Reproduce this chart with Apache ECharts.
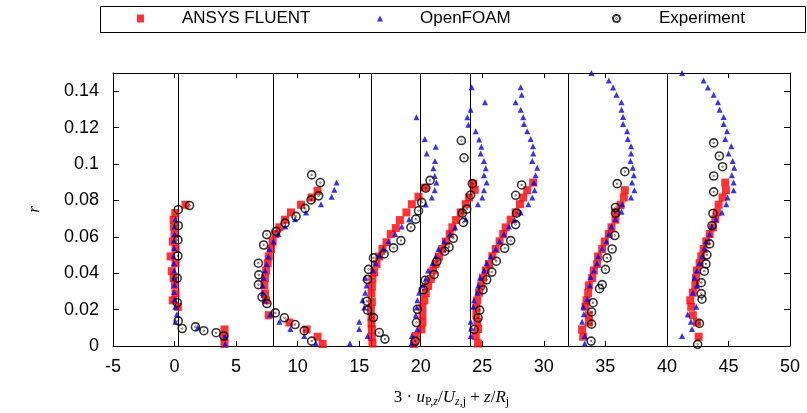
<!DOCTYPE html>
<html>
<head>
<meta charset="utf-8">
<script src="https://cdn.jsdelivr.net/npm/echarts@6/dist/echarts.min.js"></script>
<style>html,body{margin:0;padding:0;background:#fff}#c{width:807px;height:413px}</style>
</head>
<body>
<div id="c"></div>
<script>
// profile baselines (vertical reference lines)
const baselines = [0.3, 8, 16, 20, 24, 32, 40];
const xTicks = { min: -5, max: 50, step: 5 };
const yTicks = { min: 0, max: 0.15, step: 0.02 };

// ANSYS FLUENT [x, r]
const fluent = [
  // profile 1
  [0.89,0.0776],[0.06,0.0730],[-0.08,0.0694],[-0.05,0.0656],[0.0,0.0615],[-0.14,0.0574],[0.08,0.0533],[-0.32,0.0492],[0.08,0.0455],[-0.22,0.0411],[-0.08,0.0373],[0.03,0.0333],[0.08,0.0288],[-0.14,0.0251],[0.27,0.0215],[4.06,0.0091],[4.06,0.0051],[4.06,0.0011],
  // profile 2
  [11.62,0.0852],[11.14,0.0816],[10.27,0.0776],[9.46,0.0734],[8.98,0.0694],[8.52,0.0652],[8.19,0.0615],[7.97,0.0574],[7.84,0.0533],[7.65,0.0492],[7.57,0.0455],[7.44,0.0415],[7.35,0.0373],[7.30,0.0333],[7.35,0.0288],[7.44,0.0251],[7.65,0.0169],[9.33,0.0129],[10.73,0.0091],[11.62,0.0051],[12.03,0.0011],
  // profile 3
  [20.35,0.0870],[19.82,0.0820],[19.28,0.0779],[18.84,0.0734],[18.31,0.0692],[17.98,0.0648],[17.57,0.0615],[17.22,0.0570],[16.89,0.0533],[16.63,0.0492],[16.41,0.0451],[16.22,0.0406],[16.08,0.0369],[16.03,0.0328],[16.0,0.0288],[16.03,0.0242],[15.95,0.0202],[16.0,0.0160],[16.0,0.0124],[16.03,0.0091],[16.03,0.0051],[16.08,0.0014],
  // profile 4
  [24.27,0.0892],[24.39,0.0858],[23.93,0.0816],[23.66,0.0779],[23.25,0.0734],[22.87,0.0692],[22.57,0.0652],[22.36,0.0615],[22.04,0.0574],[21.76,0.0533],[21.49,0.0492],[21.22,0.0451],[21.01,0.0415],[20.82,0.0369],[20.6,0.0330],[20.41,0.0291],[20.3,0.0251],[20.14,0.0211],[20.14,0.0169],[20.14,0.0129],[20.06,0.0091],[19.6,0.0055],[19.47,0.0011],
  // profile 5
  [29.14,0.0898],[28.65,0.0856],[28.33,0.0816],[28.06,0.0779],[27.71,0.0734],[27.31,0.0694],[26.9,0.0652],[26.7,0.0615],[26.41,0.0575],[26.09,0.0533],[25.82,0.0493],[25.55,0.0451],[25.28,0.0415],[25.06,0.0375],[24.92,0.0333],[24.74,0.0293],[24.6,0.0251],[24.52,0.0211],[24.52,0.0169],[24.6,0.0133],[24.66,0.0093],[24.47,0.0055],[24.66,0.0014],
  // profile 6
  [36.58,0.0856],[36.5,0.0816],[36.23,0.0774],[35.87,0.0734],[35.82,0.0694],[35.5,0.0652],[35.28,0.0615],[34.95,0.0574],[34.74,0.0533],[34.41,0.0492],[34.33,0.0451],[34.06,0.0415],[33.93,0.0373],[33.66,0.0333],[33.6,0.0291],[33.47,0.0251],[33.39,0.0215],[33.66,0.0169],[33.66,0.0129],[33.11,0.0091],[33.2,0.0051],
  // profile 7
  [44.74,0.0898],[44.79,0.0856],[44.52,0.0816],[44.2,0.0776],[44.06,0.0734],[43.93,0.0697],[43.74,0.0652],[43.47,0.0615],[43.2,0.0575],[42.98,0.0533],[42.79,0.0493],[42.66,0.0455],[42.44,0.0415],[42.36,0.0373],[42.31,0.0333],[42.11,0.0293],[41.9,0.0251],[41.98,0.0215],[42.11,0.0169],[42.44,0.0129],[42.58,0.0051]
];

// OpenFOAM [x, r]
const openfoam = [
  // profile 1
  [0.06,0.0697],[0.0,0.0656],[0.0,0.0615],[-0.05,0.0579],[-0.03,0.0539],[-0.08,0.0495],[-0.05,0.0455],[-0.03,0.0415],[-0.03,0.0375],[0.0,0.0337],[-0.03,0.0297],[0.0,0.0255],[0.08,0.0215],[0.19,0.0175],[0.08,0.0133],[1.89,0.0102],[4.11,0.0051],[4.11,0.0011],
  // profile 2
  [13.16,0.0898],[12.98,0.0858],[12.76,0.0820],[11.9,0.0779],[10.68,0.0734],[9.79,0.0697],[9.0,0.0656],[8.43,0.0615],[8.03,0.0574],[7.70,0.0533],[7.62,0.0493],[7.49,0.0451],[7.36,0.0415],[7.24,0.0373],[7.16,0.0333],[7.16,0.0293],[7.30,0.0251],[7.76,0.0173],[8.52,0.0133],[9.41,0.0093],[10.54,0.0055],[11.49,0.0014],
  // profile 3
  [19.65,0.1257],[20.33,0.1138],[21.22,0.1095],[20.49,0.1058],[21.16,0.1016],[21.03,0.0976],[21.14,0.0934],[21.27,0.0898],[21.14,0.0856],[20.9,0.0816],[20.41,0.0778],[19.06,0.0697],[18.46,0.0656],[17.92,0.0615],[17.38,0.0575],[16.97,0.0533],[16.63,0.0497],[16.36,0.0455],[16.14,0.0415],[15.49,0.0375],[15.6,0.0333],[15.49,0.0293],[15.27,0.0251],[15.41,0.0211],[15.0,0.0133],[15.0,0.0093],[15.68,0.0055],[14.25,0.0014],
  // profile 4
  [24.14,0.1422],[25.22,0.1339],[24.06,0.1298],[23.79,0.1257],[23.87,0.1216],[24.47,0.1180],[24.74,0.1134],[24.92,0.1095],[24.87,0.1058],[25.14,0.1016],[25.28,0.0976],[25.14,0.0938],[25.36,0.0898],[25.14,0.0856],[25.0,0.0816],[24.65,0.0779],[23.66,0.0697],[22.79,0.0652],[22.38,0.0615],[21.9,0.0575],[21.44,0.0533],[21.22,0.0493],[20.95,0.0455],[20.6,0.0415],[20.41,0.0369],[20.14,0.0333],[19.87,0.0293],[19.73,0.0251],[19.68,0.0211],[19.6,0.0169],[19.73,0.0093],[19.28,0.0055],[19.25,0.0014],
  // profile 5
  [28.12,0.1422],[28.2,0.1380],[27.71,0.1339],[28.12,0.1298],[28.33,0.1257],[28.39,0.1220],[28.65,0.1180],[28.93,0.1138],[29.12,0.1098],[29.14,0.1058],[29.06,0.1016],[29.46,0.0980],[29.33,0.0938],[29.2,0.0898],[29.25,0.0856],[29.06,0.0816],[28.74,0.0779],[28.12,0.0734],[27.63,0.0692],[27.17,0.0656],[26.76,0.0615],[26.4,0.0575],[26.09,0.0533],[25.69,0.0493],[25.36,0.0455],[25.14,0.0415],[24.82,0.0375],[24.68,0.0333],[24.6,0.0293],[24.33,0.0251],[24.27,0.0215],[24.06,0.0133],[24.11,0.0096],[24.06,0.0055],
  // profile 6
  [33.87,0.1500],[35.28,0.1459],[35.63,0.1421],[35.9,0.1380],[36.31,0.1339],[36.31,0.1298],[36.44,0.1258],[36.44,0.1220],[36.77,0.1180],[36.82,0.1138],[37.09,0.1098],[37.09,0.1058],[37.04,0.1016],[37.23,0.0980],[37.31,0.0938],[37.17,0.0898],[37.36,0.0856],[37.09,0.0816],[36.36,0.0779],[36.31,0.0738],[35.82,0.0697],[35.5,0.0656],[35.28,0.0615],[35.09,0.0575],[34.74,0.0537],[34.41,0.0493],[34.33,0.0455],[34.06,0.0415],[33.8,0.0379],[33.74,0.0333],[33.52,0.0257],[33.2,0.0215],[33.25,0.0175],[33.11,0.0133],[33.33,0.0055],[33.33,0.0014],
  // profile 7
  [41.23,0.1500],[42.98,0.1459],[43.33,0.1421],[43.8,0.1380],[44.15,0.1339],[44.28,0.1298],[44.61,0.1258],[44.61,0.1220],[44.88,0.1180],[44.74,0.1138],[45.23,0.1098],[45.01,0.1058],[45.34,0.1016],[45.47,0.0980],[45.28,0.0938],[45.42,0.0898],[45.42,0.0856],[44.93,0.0816],[44.82,0.0779],[44.47,0.0734],[43.98,0.0697],[43.66,0.0656],[43.47,0.0615],[43.17,0.0575],[43.04,0.0537],[42.85,0.0493],[42.64,0.0455],[42.44,0.0415],[42.23,0.0375],[42.44,0.0333],[42.11,0.0293],[42.39,0.0215],[41.69,0.0173],[41.95,0.0133],[42.04,0.0093],[41.23,0.0055]
];

// Experiment [x, r]
const experiment = [
  // profile 1
  [1.22,0.0772],[0.30,0.0749],[0.30,0.0661],[0.27,0.0583],[0.27,0.0495],[0.22,0.0373],[0.22,0.0238],[0.30,0.0138],[0.62,0.0096],[1.70,0.0105],[2.38,0.0084],[3.38,0.0073],[4.0,0.0055],
  // profile 2
  [11.14,0.0940],[11.84,0.0898],[11.71,0.0825],[11.09,0.0803],[10.6,0.0756],[9.87,0.0712],[8.98,0.0675],[8.25,0.0630],[7.49,0.0612],[7.24,0.0555],[6.81,0.0455],[6.84,0.0391],[6.81,0.0337],[7.11,0.0269],[7.51,0.0233],[8.19,0.0182],[8.92,0.0155],[9.79,0.0118],[10.54,0.0084],[11.14,0.0027],
  // profile 3
  [20.76,0.0910],[20.41,0.0867],[20.08,0.0789],[19.82,0.0743],[19.6,0.0697],[19.2,0.0652],[18.39,0.0579],[17.79,0.0539],[17.03,0.0506],[16.16,0.0484],[15.76,0.0421],[15.68,0.0366],[15.63,0.0246],[15.68,0.0197],[16.16,0.0156],[16.63,0.0074],[17.09,0.0038],
  // profile 4
  [23.3,0.1129],[23.52,0.1034],[24.19,0.0892],[24.06,0.0830],[23.74,0.0752],[23.38,0.0730],[23.46,0.0679],[22.65,0.0592],[22.3,0.0543],[21.95,0.0521],[21.31,0.0464],[21.09,0.0393],[20.36,0.0361],[20.2,0.0309],[19.73,0.0202],[19.65,0.0129],[19.55,0.0027],
  // profile 5
  [28.2,0.0885],[27.71,0.0828],[27.79,0.0730],[27.71,0.0667],[27.31,0.0579],[26.82,0.0537],[26.14,0.0466],[25.77,0.0406],[25.36,0.0364],[25.06,0.0309],[24.79,0.0197],[24.66,0.0155],[24.33,0.0091],
  // profile 6
  [36.58,0.0958],[35.96,0.0892],[35.82,0.0761],[35.82,0.0730],[35.77,0.0607],[35.55,0.0533],[35.14,0.0484],[35.01,0.0421],[34.74,0.0337],[34.53,0.0315],[34.0,0.0238],[33.88,0.0187],[33.88,0.0120],[33.84,0.0027],
  // profile 7
  [43.8,0.1116],[44.26,0.1044],[44.52,0.0985],[43.8,0.0934],[43.8,0.0847],[43.74,0.0728],[43.66,0.0661],[43.47,0.0561],[43.25,0.0501],[43.17,0.0451],[43.04,0.0411],[42.79,0.0348],[42.79,0.0288],[42.85,0.0257],[42.64,0.0124],[42.5,0.0009]
];

const seriesNames = ['ANSYS FLUENT', 'OpenFOAM', 'Experiment'];

const FONT = 'Liberation Sans';
const SERIF = 'Liberation Serif';
const ringDot = 'path://M10,0A10,10 0 1,1 10,20A10,10 0 1,1 10,0ZM10,9.3A0.7,0.7 0 1,1 10,10.7A0.7,0.7 0 1,1 10,9.3Z';

const chart = echarts.init(document.getElementById('c'), null, { renderer: 'canvas' });

const axisCommon = {
  type: 'value',
  axisLine: { show: true, onZero: false, lineStyle: { color: '#000', width: 1 } },
  splitLine: { show: false },
  axisTick: { show: true, inside: true, length: 5, lineStyle: { color: '#000', width: 1 } }
};

chart.setOption({
  animation: false,
  backgroundColor: '#fff',
  grid: { left: 113, right: 17, top: 73, bottom: 64, containLabel: false },
  graphic: [
    { type: 'rect', shape: { x: 100.5, y: 6.5, width: 705, height: 26 }, style: { fill: 'none', stroke: '#000', lineWidth: 1 }, z: 0 }
  ],
  legend: [
    { data: [seriesNames[0]], left: 137, top: 10, padding: 0, itemWidth: 7, itemHeight: 8,
      textStyle: { fontFamily: FONT, fontSize: 17, color: '#000', padding: [0, 0, 0, 33] } },
    { data: [seriesNames[1]], left: 377, top: 10, padding: 0, itemWidth: 6, itemHeight: 6,
      textStyle: { fontFamily: FONT, fontSize: 17, color: '#000', padding: [0, 0, 0, 32] } },
    { data: [seriesNames[2]], left: 612, top: 10, padding: 0, itemWidth: 7, itemHeight: 7,
      textStyle: { fontFamily: FONT, fontSize: 17, color: '#000', padding: [0, 0, 0, 34] } }
  ],
  xAxis: [
    Object.assign({}, axisCommon, {
      position: 'bottom', min: xTicks.min, max: xTicks.max, interval: xTicks.step,
      axisLabel: { color: '#000', fontFamily: FONT, fontSize: 18, margin: 12 },
      name: '{n|3 · }{i|u}{s|P,}{si|z}{n|/}{i|U}{si|z}{s|,j}{n| + }{i|z}{n|/}{i|R}{s|j}',
      nameLocation: 'middle', nameGap: 41,
      nameTextStyle: {
        color: '#000', fontFamily: SERIF, fontSize: 17,
        rich: {
          n: { fontFamily: SERIF, fontSize: 17, color: '#000' },
          i: { fontFamily: SERIF, fontStyle: 'italic', fontSize: 17, color: '#000' },
          s: { fontFamily: SERIF, fontSize: 12, color: '#000', padding: [9, 0, 0, 0] },
          si: { fontFamily: SERIF, fontStyle: 'italic', fontSize: 12, color: '#000', padding: [9, 0, 0, 0] }
        }
      }
    }),
    Object.assign({}, axisCommon, {
      position: 'top', min: xTicks.min, max: xTicks.max, interval: xTicks.step,
      axisLabel: { show: false }
    })
  ],
  yAxis: [
    Object.assign({}, axisCommon, {
      position: 'left', min: yTicks.min, max: yTicks.max, interval: yTicks.step,
      axisTick: { show: true, inside: true, length: 6, lineStyle: { color: '#000' } },
      axisLabel: { color: '#000', fontFamily: FONT, fontSize: 18, margin: 14, showMaxLabel: false,
        formatter: v => String(+v.toFixed(4)) },
      name: 'r', nameLocation: 'middle', nameGap: 70, nameRotate: 90,
      nameTextStyle: { color: '#000', fontFamily: SERIF, fontStyle: 'italic', fontSize: 17 }
    }),
    Object.assign({}, axisCommon, {
      position: 'right', min: yTicks.min, max: yTicks.max, interval: yTicks.step,
      axisTick: { show: true, inside: true, length: 6, lineStyle: { color: '#000' } },
      axisLabel: { show: false }
    })
  ],
  series: [
    {
      name: seriesNames[0], type: 'scatter', xAxisIndex: 0, yAxisIndex: 0,
      symbol: 'rect', symbolSize: 8, itemStyle: { color: '#ff0000' },
      data: fluent, z: 3,
      markLine: {
        silent: true, symbol: ['none', 'none'], label: { show: false },
        lineStyle: { color: '#000', width: 1, type: 'solid' },
        data: baselines.map(v => ({ xAxis: v })), z: 1
      }
    },
    {
      name: seriesNames[1], type: 'scatter', xAxisIndex: 0, yAxisIndex: 0,
      symbol: 'triangle', symbolSize: 6, itemStyle: { color: '#0000ff' },
      data: openfoam, z: 4
    },
    {
      name: seriesNames[2], type: 'scatter', xAxisIndex: 0, yAxisIndex: 0,
      symbol: ringDot, symbolSize: 8,
      itemStyle: { color: 'rgba(0,0,0,0)', borderColor: '#000', borderWidth: 1.6 },
      data: experiment, z: 5
    }
  ]
});
</script>
</body>
</html>
